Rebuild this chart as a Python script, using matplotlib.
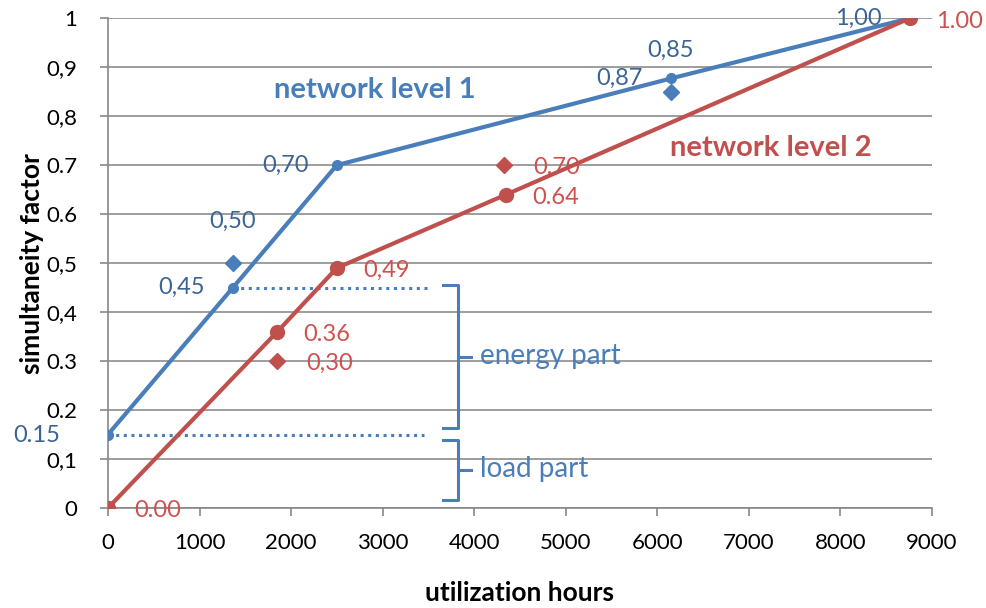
import matplotlib.pyplot as plt

plt.rcParams['font.family'] = ['Lato', 'DejaVu Sans']

# network level 1 (blue)
lvl1_hours = [0, 1365, 2500, 6150, 8760]
lvl1_factor = [0.15, 0.45, 0.70, 0.877, 1.00]
lvl1_labels = ['0.15', '0,45', '0,70', '0,87', '1,00']
lvl1_diam_hours = [1365, 6150]
lvl1_diam_factor = [0.50, 0.85]
lvl1_diam_labels = ['0,50', '0,85']

# network level 2 (red)
lvl2_hours = [0, 1850, 2500, 4350, 8760]
lvl2_factor = [0.00, 0.36, 0.49, 0.64, 1.00]
lvl2_labels = ['0.00', '0.36', '0,49', '0.64', '1.00']
lvl2_diam_hours = [1850, 4330]
lvl2_diam_factor = [0.30, 0.70]
lvl2_diam_labels = ['0,30', '0.70']

yticks = [0, 0.1, 0.2, 0.3, 0.4, 0.5, 0.6, 0.7, 0.8, 0.9, 1]
ytick_labels = ['0', '0,1', '0.2', '0.3', '0,4', '0,5', '0.6', '0.7', '0,8', '0,9', '1']
xticks = [0, 1000, 2000, 3000, 4000, 5000, 6000, 7000, 8000, 9000]

blue = '#4a7ebb'
blue_txt = '#3b6496'
red = '#c0504d'
red_txt = '#d0504d'

fig = plt.figure(figsize=(9.86, 6.08), dpi=100)
ax = fig.add_axes([0.1095, 0.1645, 0.8355, 0.8055])

ax.plot(lvl1_hours, lvl1_factor, color=blue, lw=3, marker='o', ms=7, zorder=4)
ax.plot(lvl2_hours, lvl2_factor, color=red, lw=3, marker='o', ms=10, zorder=4)
ax.plot(lvl1_diam_hours, lvl1_diam_factor, ls='none', marker='D', ms=8, color=blue, zorder=4)
ax.plot(lvl2_diam_hours, lvl2_diam_factor, ls='none', marker='D', ms=8, color=red, zorder=4)

# dotted helper lines
ax.plot([lvl1_hours[1], 3500], [lvl1_factor[1]] * 2, color=blue, lw=2.2, ls=(0, (1, 1.5)), zorder=3)
ax.plot([0, 3450], [lvl1_factor[0]] * 2, color=blue, lw=2.2, ls=(0, (1, 1.5)), zorder=3)

# data labels
lbl_fs = 17
lvl1_off = [(-51, -1), (-37, 0), (-37, 0), (-37, 0), (-37, 0)]
for x, y, t, o in zip(lvl1_hours, lvl1_factor, lvl1_labels, lvl1_off):
    ax.annotate(t, (x, y), xytext=o, textcoords='offset points', ha='center', va='center',
                color=blue_txt, fontsize=lbl_fs, annotation_clip=False)
for x, y, t in zip(lvl1_diam_hours, lvl1_diam_factor, lvl1_diam_labels):
    ax.annotate(t, (x, y), xytext=(0, 30), textcoords='offset points', ha='center', va='center',
                color=blue_txt, fontsize=lbl_fs)
for x, y, t in zip(lvl2_hours, lvl2_factor, lvl2_labels):
    ax.annotate(t, (x, y), xytext=(19, -2), textcoords='offset points', ha='left', va='center',
                color=red_txt, fontsize=lbl_fs, annotation_clip=False)
for x, y, t in zip(lvl2_diam_hours, lvl2_diam_factor, lvl2_diam_labels):
    ax.annotate(t, (x, y), xytext=(21, -2), textcoords='offset points', ha='left', va='center',
                color=red_txt, fontsize=lbl_fs)

ax.text(2916, 0.853, 'network level 1', color=blue, fontsize=21, fontweight='bold', ha='center', va='center')
ax.text(7241, 0.735, 'network level 2', color=red, fontsize=21, fontweight='bold', ha='center', va='center')

# braces
def brace(y0, y1, ymid):
    xa, xv, xn = 3660, 3820, 3970
    ax.plot([xa, xv, xv, xa], [y1, y1, y0, y0], color=blue, lw=2.2, solid_joinstyle='round', zorder=3)
    ax.plot([xv, xn], [ymid, ymid], color=blue, lw=2.2, zorder=3)

brace(0.163, 0.455, 0.308)
brace(0.016, 0.139, 0.078)
ax.text(4063, 0.31, 'energy part', color=blue, fontsize=20, va='center')
ax.text(4063, 0.08, 'load part', color=blue, fontsize=20, va='center')

ax.set_xlim(0, 9000)
ax.set_ylim(0, 1)
ax.set_xticks(xticks)
ax.set_yticks(yticks)
ax.set_yticklabels(ytick_labels)
ax.tick_params(labelsize=16, colors='#888888', labelcolor='black', length=6, width=1.2)
ax.tick_params(axis='x', pad=12)
ax.tick_params(axis='y', pad=16)
ax.grid(axis='y', color='#8c8c8c', lw=1.2)
ax.set_axisbelow(True)
for s in ['top', 'right']:
    ax.spines[s].set_visible(False)
for s in ['left', 'bottom']:
    ax.spines[s].set_color('#888888')
    ax.spines[s].set_linewidth(1.2)

ax.set_xlabel('utilization hours', fontsize=19, fontweight='bold', labelpad=20)
ax.set_ylabel('simultaneity factor', fontsize=19, fontweight='bold', labelpad=2)

fig.savefig('out.png', dpi=100)
